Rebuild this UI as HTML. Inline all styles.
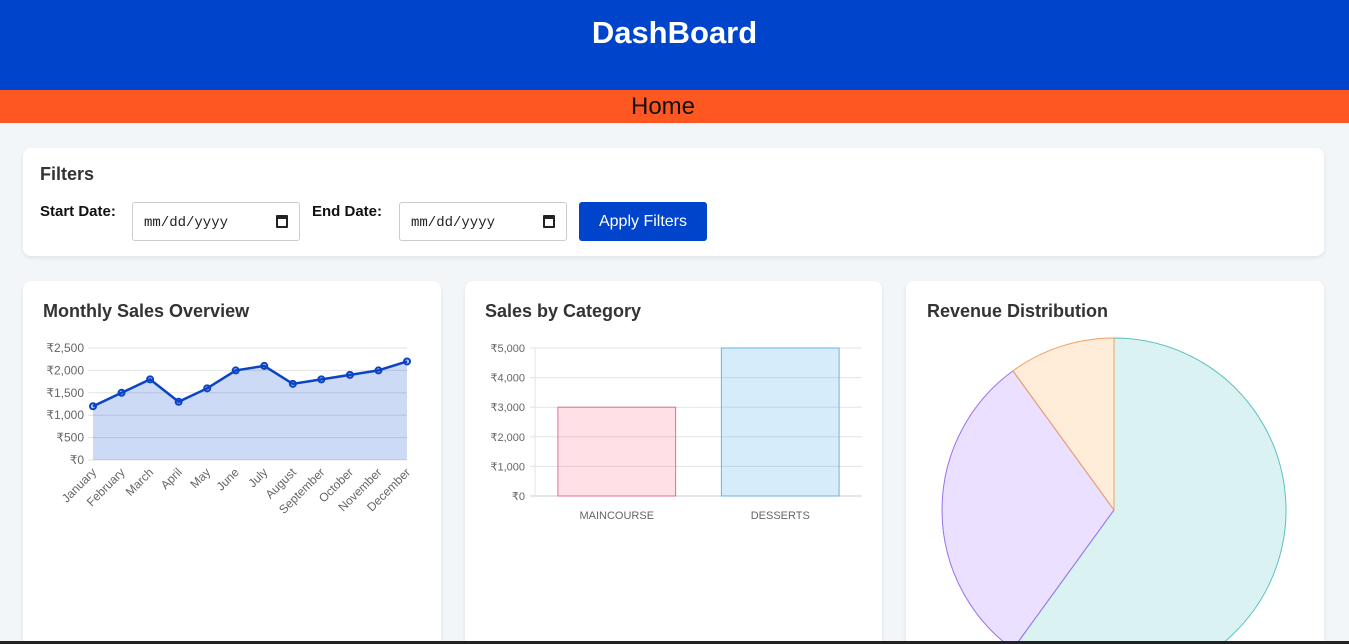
<!DOCTYPE html>
<html><head><meta charset="utf-8">
<style>
*{box-sizing:border-box;margin:0;padding:0}
html{width:1349px;height:644px;overflow:hidden}
body{width:1349px;height:644px;overflow:hidden;background:#f3f6f9;font-family:"Liberation Sans",Arial,sans-serif;position:relative}
.hdr{position:absolute;left:0;top:0;width:1349px;height:90px;background:#0044cc;color:#fff;text-align:center;font-weight:bold;font-size:31px;padding-top:15px}
.nav{position:absolute;left:0;top:90px;width:1349px;height:33px;background:#ff5722;color:#111;font-size:24px;line-height:33px}
.nav span{position:absolute;left:631px}
.card{position:absolute;background:#fff;border-radius:8px;box-shadow:0 2px 5px rgba(0,0,0,0.08)}
h3{font-size:18px;color:#333;position:absolute}
.lbl{position:absolute;font-weight:bold;font-size:15px;color:#111}
.inp{position:absolute;height:39px;border:1px solid #ccc;border-radius:3px;font-family:"Liberation Mono",monospace;font-size:14px;color:#222;padding:12px 0 0 11px}
.inp .cal{position:absolute;right:11px;top:12px;width:12px;height:13px;border:2px solid #222;border-top-width:4px;border-radius:1px}
.btn{position:absolute;left:579px;top:202px;width:128px;height:39px;background:#0044cc;color:#fff;border-radius:3px;font-size:16px;text-align:center;line-height:39px}
.bottom{position:absolute;left:0;top:641px;width:1349px;height:3px;background:#222}
</style></head><body>
<div class="hdr">DashBoard</div>
<div class="nav"><span>Home</span></div>

<div class="card" style="left:23px;top:148px;width:1301px;height:108px">
<h3 style="left:17px;top:16px">Filters</h3>
</div>
<div class="lbl" style="left:40px;top:203px">Start Date:</div>
<div class="inp" style="left:132px;top:202px;width:168px">mm/dd/yyyy<span class="cal"></span></div>
<div class="lbl" style="left:312px;top:203px">End Date:</div>
<div class="inp" style="left:399px;top:202px;width:168px">mm/dd/yyyy<span class="cal"></span></div>
<div class="btn">Apply Filters</div>

<div class="card" style="left:23px;top:281px;width:418px;height:363px;border-bottom-left-radius:0;border-bottom-right-radius:0"><h3 style="left:20px;top:20px">Monthly Sales Overview</h3></div>
<div class="card" style="left:465px;top:281px;width:417px;height:363px;border-bottom-left-radius:0;border-bottom-right-radius:0"><h3 style="left:20px;top:20px">Sales by Category</h3></div>
<div class="card" style="left:906px;top:281px;width:418px;height:363px;border-bottom-left-radius:0;border-bottom-right-radius:0"><h3 style="left:21px;top:20px">Revenue Distribution</h3></div>

<svg id="svg" width="1349" height="644" style="position:absolute;left:0;top:0"></svg>
<div class="bottom"></div>

<script>
const months=["January","February","March","April","May","June","July","August","September","October","November","December"];
const sales=[1200,1500,1800,1300,1600,2000,2100,1700,1800,1900,2000,2200];
const lineTicks=[0,500,1000,1500,2000,2500];
const categories=["MAINCOURSE","DESSERTS"];
const catSales=[3000,5000];
const barTicks=[0,1000,2000,3000,4000,5000];
const pieValues=[6000,3000,1000];

const NS="http://www.w3.org/2000/svg";
const svg=document.getElementById('svg');
function mk(t,a,p){const e=document.createElementNS(NS,t);for(const k in a)e.setAttribute(k,a[k]);(p||svg).appendChild(e);return e;}
function fmt(v){return '₹'+v.toLocaleString('en-US');}

// line chart
const lx0=93,lx1=407,ly0=460,ly1=348,lmax=2500;
const lX=i=>lx0+i*(lx1-lx0)/(months.length-1);
const lY=v=>ly0-v/lmax*(ly0-ly1);
lineTicks.forEach(t=>{
 const g=mk('line',{x1:lx0-5,x2:lx1,y1:lY(t),y2:lY(t),stroke:'#e3e3e3'});
 
 
 const tx=mk('text',{x:lx0-9,y:lY(t)+4,'text-anchor':'end','font-size':12,fill:'#666','font-family':'Liberation Sans'});
 tx.textContent=fmt(t);
 
 
});
let d='M'+lX(0)+','+ly0;sales.forEach((v,i)=>d+=' L'+lX(i)+','+lY(v));d+=' L'+lX(sales.length-1)+','+ly0+'Z';
const area=mk('path',{d:d,fill:'rgba(0,68,204,0.2)'});


const ln=mk('polyline',{points:sales.map((v,i)=>lX(i)+','+lY(v)).join(' '),fill:'none',stroke:'#0a44c4','stroke-width':2.5});


sales.forEach((v,i)=>{
 const c=mk('circle',{cx:lX(i),cy:lY(v),r:3,fill:'rgba(0,68,204,0.25)',stroke:'#0a44c4','stroke-width':2});
 
 
});
months.forEach((m,i)=>{
 const x=lX(i)+4,y=ly0+13;
 const tx=mk('text',{x:x,y:y,'text-anchor':'end','font-size':12,fill:'#666','font-family':'Liberation Sans',transform:`rotate(-45 ${x} ${y})`});
 tx.textContent=m;
 
 
});

// bar chart
const bx0=535,bx1=862,by0=496,by1=348,bmax=5000;
const bY=v=>by0-v/bmax*(by0-by1);
const bw=(bx1-bx0)/categories.length;
barTicks.forEach(t=>{
 const g=mk('line',{x1:bx0-5,x2:bx1,y1:bY(t),y2:bY(t),stroke:t?'#e3e3e3':'#ccc'});
 
 
 const tx=mk('text',{x:bx0-10,y:bY(t)+4,'text-anchor':'end','font-size':11,fill:'#666','font-family':'Liberation Sans'});
 tx.textContent=fmt(t);
 
 
});
mk('line',{x1:bx0,x2:bx0,y1:by1,y2:by0,stroke:'#e3e3e3'});
const bfill=['rgba(255,99,132,0.2)','rgba(54,162,235,0.2)'],bstr=['#e0708c','#6fb3e0'];
categories.forEach((c,i)=>{
 const x=bx0+i*bw+bw*0.14,w=bw*0.72;
 const r=mk('rect',{x:x,y:bY(catSales[i]),width:w,height:by0-bY(catSales[i]),fill:bfill[i],stroke:bstr[i],'stroke-width':1});
 
 
 const tx=mk('text',{x:bx0+i*bw+bw/2,y:by0+23,'text-anchor':'middle','font-size':11,fill:'#666','font-family':'Liberation Sans'});
 tx.textContent=c;
 
 
});

// pie
const pcx=1114,pcy=510,pr=172;
const pfill=['rgba(75,192,192,0.2)','rgba(153,102,255,0.2)','rgba(255,159,64,0.2)'],pstr=['#5cc0c0','#9a70f0','#f0a060'];
const tot=pieValues.reduce((a,b)=>a+b,0);let ang=0;
pieValues.forEach((v,i)=>{
 const a0=ang,a1=ang+v/tot*2*Math.PI;ang=a1;
 const p=a=>[pcx+pr*Math.sin(a),pcy-pr*Math.cos(a)];
 const [x0,y0]=p(a0),[x1,y1]=p(a1);
 const s=mk('path',{d:`M${pcx},${pcy} L${x0},${y0} A${pr},${pr} 0 ${a1-a0>Math.PI?1:0} 1 ${x1},${y1} Z`,fill:pfill[i],stroke:pstr[i],'stroke-width':1});
 
 
});
</script>
</body></html>
